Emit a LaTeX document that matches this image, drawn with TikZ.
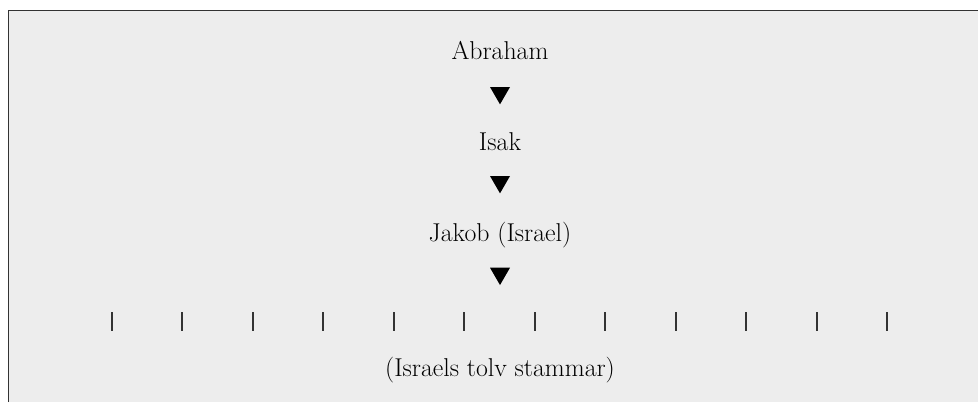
\documentclass[tikz,border=0pt]{standalone}
\usetikzlibrary{shapes.geometric}

\definecolor{ruta}{HTML}{EDEDED}
\definecolor{kant}{HTML}{333333}

\begin{document}
\begin{tikzpicture}[x=1pt, y=1pt,
        namn/.style={anchor=base, inner sep=0pt, font=\fontsize{25.8}{30}\selectfont},
        pil/.style={regular polygon, regular polygon sides=3, shape border rotate=180,
            fill=black, inner sep=0pt, minimum size=23.1pt}]
        \useasboundingbox (0, 0) rectangle (978, -402);
        \pgfmathsetmacro{\mitt}{500}
        % bakgrund och ram
        \fill[ruta] (8.5, -10.5) rectangle (978, -402);
        \draw[kant, line width=1.6pt] (8.5, -402) -- (8.5, -10.5) -- (978, -10.5);

        \node[namn] (abraham) at (\mitt, -59.3) {Abraham};
        \node[pil] (pil1) at (\mitt, -92.8) {};
        \node[namn] (isak) at (\mitt, -150) {Isak};
        \node[pil] (pil2) at (\mitt, -181.8) {};
        \node[namn] (jakob) at (\mitt, -241.7) {Jakob (Israel)};
        \node[pil] (pil3) at (\mitt, -273.5) {};

        \foreach \i in {0,...,11} {
            \draw[kant, line width=2pt] (112 + 70.48*\i, -312) -- (112 + 70.48*\i, -331);
        }
        \node[namn] (stammar) at (\mitt, -376.7) {(Israels tolv stammar)};

    \end{tikzpicture}
\end{document}
